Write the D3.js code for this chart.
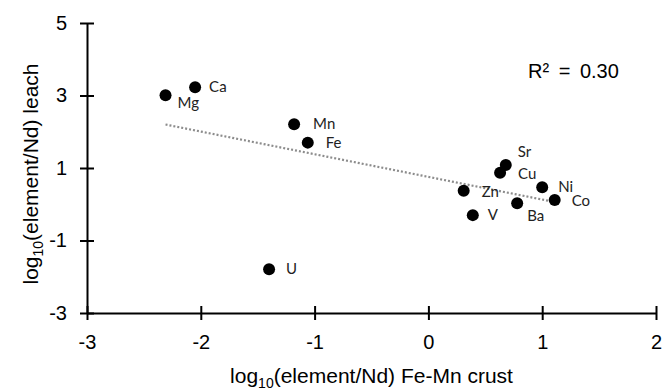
<!DOCTYPE html>
<html>
<head>
<meta charset="utf-8">
<script src="https://cdn.jsdelivr.net/npm/d3@7"></script>
<style>
  body { margin: 0; background: #fff; }
  .axis text { font-family: "Liberation Sans", Arial, sans-serif; font-size: 20px; fill: #000; }
  .axis path, .axis line { stroke: #000; stroke-width: 2; }
  .pt-label { font-family: Lato, "Open Sans", sans-serif; font-size: 15px; fill: #222; }
  .title { font-family: "Liberation Sans", Arial, sans-serif; font-size: 21px; fill: #000; }
</style>
</head>
<body>
<div id="chart-area"></div>
<script>
// element names and log10(element/Nd) values
let elements = ["Mg", "Ca", "Mn", "Fe", "U", "Sr", "Cu", "Ni", "Co", "Zn", "Ba", "V"];
let crust = [-2.31, -2.05, -1.18, -1.06, -1.40, 0.68, 0.63, 1.00, 1.11, 0.31, 0.78, 0.39];
let leach = [3.01, 3.23, 2.21, 1.70, -1.79, 1.08, 0.87, 0.47, 0.12, 0.37, 0.03, -0.30];

let xTicks = [-3, -2, -1, 0, 1, 2];
let yTicks = [-3, -1, 1, 3, 5];
let r2Label = "R\u00b2 = 0.30";

// label nudges (px) so names sit where they do in the figure
let labelNudge = {
    Mg: [12, 8], Ca: [14, 0], Mn: [19, 0], Fe: [18, 0], U: [17, 0],
    Sr: [12, -13], Cu: [18, 1], Ni: [16, 0], Co: [17, 1], Zn: [18, 1],
    Ba: [10, 13], V: [15, 0]
};

let margin = { top: 23, right: 9, bottom: 77, left: 87 };
let width = 665 - margin.left - margin.right,
    height = 390 - margin.top - margin.bottom;

let svg = d3.select("#chart-area").append("svg")
    .attr("width", 665)
    .attr("height", 390)
    .append("g")
    .attr("transform", "translate(" + margin.left + "," + margin.top + ")");

let x = d3.scaleLinear().domain([-3, 2]).range([0, width]);
let y = d3.scaleLinear().domain([-3, 5]).range([height, 0]);

let data = elements.map((e, i) => ({ name: e, x: crust[i], y: leach[i] }));

// least squares trendline
let mx = d3.mean(data, d => d.x), my = d3.mean(data, d => d.y);
let sxy = d3.sum(data, d => (d.x - mx) * (d.y - my));
let sxx = d3.sum(data, d => (d.x - mx) * (d.x - mx));
let slope = sxy / sxx, intercept = my - slope * mx;

let xr = d3.extent(data, d => d.x);
svg.append("line")
    .attr("x1", x(xr[0])).attr("y1", y(intercept + slope * xr[0]))
    .attr("x2", x(xr[1])).attr("y2", y(intercept + slope * xr[1]))
    .attr("stroke", "#8c8c8c")
    .attr("stroke-width", 2.2)
    .attr("stroke-dasharray", "2,2");

let fmt = d => d < 0 ? "-" + Math.abs(d) : d;

// axes
let xAxisGroup = svg.append("g")
    .attr("class", "x-axis axis")
    .attr("transform", "translate(0," + height + ")")
    .call(d3.axisBottom(x).tickValues(xTicks).tickSizeOuter(0).tickSizeInner(7).tickPadding(15)
        .tickFormat(fmt));
xAxisGroup.selectAll(".tick line").attr("y1", -7).attr("y2", 7);

let yAxisGroup = svg.append("g")
    .attr("class", "y-axis axis")
    .call(d3.axisLeft(y).tickValues(yTicks).tickSizeOuter(0).tickSizeInner(7).tickPadding(13)
        .tickFormat(fmt));
yAxisGroup.selectAll(".tick line").attr("x1", -7).attr("x2", 7);

// points
svg.selectAll(".dot")
    .data(data)
    .enter().append("circle")
    .attr("class", "dot")
    .attr("cx", d => x(d.x))
    .attr("cy", d => y(d.y))
    .attr("r", 6)
    .attr("fill", "#000");

svg.selectAll(".pt-label")
    .data(data)
    .enter().append("text")
    .attr("class", "pt-label")
    .attr("x", d => x(d.x) + labelNudge[d.name][0])
    .attr("y", d => y(d.y) + labelNudge[d.name][1])
    .attr("dy", "0.35em")
    .text(d => d.name);

// R squared
svg.append("text")
    .attr("x", 441)
    .attr("y", 55)
    .style("font-family", "'Liberation Sans', Arial, sans-serif")
    .style("font-size", "20px")
    .style("word-spacing", "4px")
    .text(r2Label);

// axis titles
let xt = svg.append("text")
    .attr("class", "title")
    .attr("x", width / 2)
    .attr("y", height + 70)
    .attr("text-anchor", "middle");
xt.append("tspan").text("log");
xt.append("tspan").attr("font-size", "14px").attr("dy", 5).text("10");
xt.append("tspan").attr("dy", -5).text("(element/Nd) Fe-Mn crust");

let yt = svg.append("text")
    .attr("class", "title")
    .attr("transform", "translate(" + (-49) + "," + (174 - margin.top) + ") rotate(-90)")
    .attr("text-anchor", "middle");
yt.append("tspan").text("log");
yt.append("tspan").attr("font-size", "14px").attr("dy", 5).text("10");
yt.append("tspan").attr("dy", -5).text("(element/Nd) leach");
</script>
</body>
</html>
